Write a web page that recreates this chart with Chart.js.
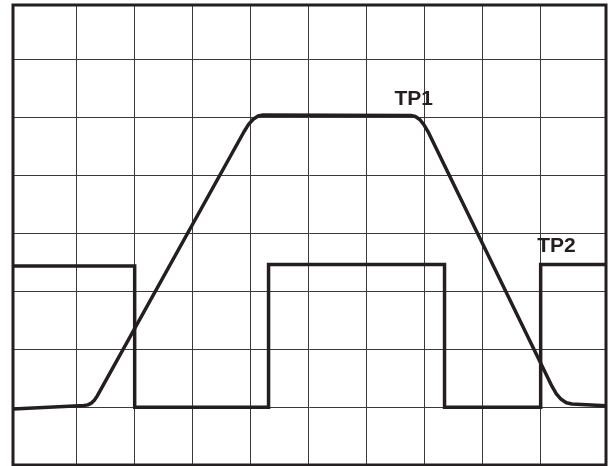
<!DOCTYPE html>
<html>
<head>
<meta charset="utf-8">
<script src="https://cdn.jsdelivr.net/npm/chart.js@4.4.1/dist/chart.umd.min.js"></script>
<style>
  html, body { margin: 0; padding: 0; background: #fff; }
  canvas { display: block; }
</style>
</head>
<body>
<canvas id="scope" width="608" height="466"></canvas>
<script>
// trace values in screen divisions (x: time div, y: volt div)
var tp1X = [-0.085, 1.138, 1.203, 1.263, 1.315, 1.361, 3.892, 3.971, 4.051, 4.135, 4.219,
            6.767, 6.843, 6.918, 6.989, 7.060, 9.194, 9.270, 9.353, 9.442, 9.539, 10.125];
var tp1Y = [0.968, 1.027, 1.039, 1.069, 1.118, 1.186, 5.759, 5.886, 5.976, 6.031, 6.049,
            6.040, 6.023, 5.971, 5.883, 5.762, 1.362, 1.231, 1.135, 1.077, 1.054, 1.025];

var tp2X = [-0.085, 2.01, 2.01, 4.315, 4.315, 7.345, 7.345, 9.0, 9.0, 10.125];
var tp2Y = [3.44, 3.44, 1.0, 1.0, 3.465, 3.465, 1.0, 1.0, 3.465, 3.465];

var traceNames = ['TP1', 'TP2'];
var nameX = [6.484, 8.941];
var nameY = [6.222, 3.686];

var xGrid = [1, 2, 3, 4, 5, 6, 7, 8, 9];
var yGrid = [1, 2, 3, 4, 5, 6, 7];

var ink = '#231f20';

function pts(xs, ys) {
    return xs.map(function (x, i) { return { x: x, y: ys[i] }; });
}

// frame + trace names
var scopeDeco = {
    id: 'scopeDeco',
    afterDatasetsDraw: function (chart) {
        var c = chart.ctx, a = chart.chartArea;
        var sx = chart.scales.x, sy = chart.scales.y;
        c.save();
        c.fillStyle = ink;
        c.font = 'bold 21px "Liberation Sans", Arial, sans-serif';
        c.textAlign = 'left';
        c.textBaseline = 'alphabetic';
        traceNames.forEach(function (t, i) {
            c.fillText(t, sx.getPixelForValue(nameX[i]), sy.getPixelForValue(nameY[i]));
        });
        c.strokeStyle = ink;
        c.lineWidth = 3;
        c.strokeRect(a.left, a.top, a.right - a.left, a.bottom - a.top);
        c.restore();
    }
};

var ctx = document.getElementById('scope').getContext('2d');

var scopeChart = new Chart(ctx, {
    type: 'scatter',
    data: {
        datasets: [{
            label: traceNames[0],
            data: pts(tp1X, tp1Y),
            showLine: true,
            borderColor: ink,
            borderWidth: 3.5,
            borderJoinStyle: 'round',
            pointRadius: 0,
            tension: 0
        }, {
            label: traceNames[1],
            data: pts(tp2X, tp2Y),
            showLine: true,
            borderColor: ink,
            borderWidth: 3.5,
            borderJoinStyle: 'miter',
            pointRadius: 0,
            tension: 0
        }]
    },
    options: {
        responsive: false,
        animation: false,
        layout: { padding: { left: 13, top: 5, right: 2, bottom: 1 } },
        plugins: { legend: { display: false }, tooltip: { enabled: false } },
        scales: {
            x: {
                type: 'linear',
                min: -0.085,
                max: 10.125,
                afterBuildTicks: function (s) { s.ticks = xGrid.map(function (v) { return { value: v }; }); },
                ticks: { display: false },
                grid: { color: '#3a3a3a', lineWidth: 1, drawTicks: false },
                border: { display: false }
            },
            y: {
                type: 'linear',
                min: 0,
                max: 7.95,
                afterBuildTicks: function (s) { s.ticks = yGrid.map(function (v) { return { value: v }; }); },
                ticks: { display: false },
                grid: { color: '#3a3a3a', lineWidth: 1, drawTicks: false },
                border: { display: false }
            }
        }
    },
    plugins: [scopeDeco]
});
</script>
</body>
</html>
